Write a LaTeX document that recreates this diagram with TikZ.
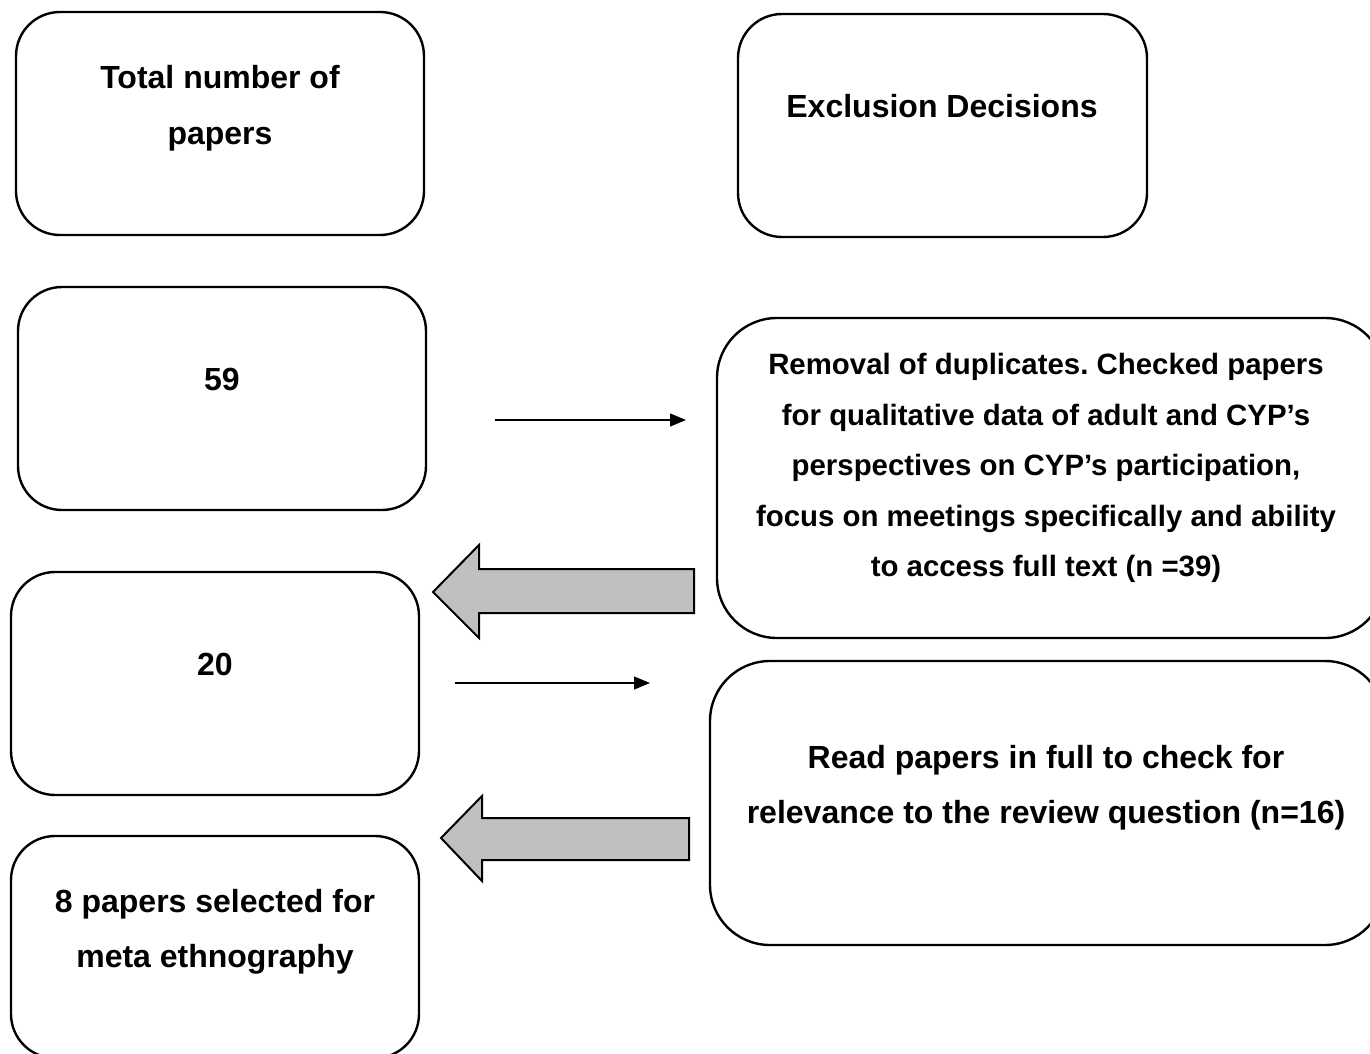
\documentclass[tikz,border=0pt]{standalone}
\usepackage{fontspec}
\setmainfont{Liberation Sans}
\usetikzlibrary{arrows.meta}
\frenchspacing
\begin{document}
\begin{tikzpicture}[x=0.5pt,y=-0.5pt,
  box/.style={draw, line width=1.2pt, rounded corners=#1, inner sep=0pt},
  box/.default=22pt,
  txt/.style={align=center, inner sep=0pt, font=\bfseries\fontsize{16}{#1}\selectfont},
  txt/.default=25.5pt,
  smalltxt/.style={align=center, inner sep=0pt, font=\bfseries\fontsize{14.7}{25.25}\selectfont},
  flow/.style={line width=0.6pt, -{Triangle[length=8pt,width=6.5pt]}},
  back/.style={draw, line width=1pt, fill={rgb,255:red,192;green,192;blue,192}, line join=miter}]
  \useasboundingbox (0,0) rectangle (1370,1054);
  \clip (0,0) rectangle (1370,1054);

  % left column: paper counts
  \node[box, minimum width=204pt, minimum height=111.5pt] (total) at (220,123.5) {};
  \node[box, minimum width=204pt, minimum height=111.5pt] (n59) at (222,398.5) {};
  \node[box, minimum width=204pt, minimum height=111.5pt] (n20) at (215,683.5) {};
  \node[box, minimum width=204pt, minimum height=111pt] (final) at (215,947) {};

  % right column: exclusion steps
  \node[box, minimum width=204.5pt, minimum height=111.5pt] (excl) at (942.5,125.5) {};
  \node[box=30pt, minimum width=334pt, minimum height=160pt] (dup) at (1051,478) {};
  \node[box=30pt, minimum width=337.5pt, minimum height=142pt] (full) at (1047.5,803) {};

  % labels
  \node[txt=28pt] (totalT) at (220,108) {Total number of\\papers};
  \node[txt] (n59T) at (222,379) {59};
  \node[txt] (n20T) at (215,664) {20};
  \node[txt=27.5pt] (finalT) at (215,931.5) {8 papers selected for\\meta ethnography};
  \node[txt] (exclT) at (942,106) {Exclusion Decisions};
  \node[smalltxt] (dupT) at (1046,468) {Removal of duplicates. Checked papers\\
    for qualitative data of adult and CYP’s\\
    perspectives on CYP’s participation,\\
    focus on meetings specifically and ability\\
    to access full text (n =39)};
  \node[txt=27.5pt] (fullT) at (1046,787.5) {Read papers in full to check for\\relevance to the review question (n=16)};

  % thin arrows towards the exclusion steps
  \coordinate (f1s) at (495,420);
  \coordinate (f1e) at (686,420);
  \coordinate (f2s) at (455,683);
  \coordinate (f2e) at (650,683);
  \draw[flow] (f1s) -- (f1e);
  \draw[flow] (f2s) -- (f2e);

  % block arrows carrying the remaining papers back
  \draw[back] (694,569) -- (479,569) -- (479,545) -- (433,592) -- (479,638) -- (479,613) -- (694,613) -- cycle;
  \draw[back] (689,818) -- (482,818) -- (482,796) -- (441,838) -- (482,881) -- (482,860) -- (689,860) -- cycle;
\end{tikzpicture}
\end{document}
